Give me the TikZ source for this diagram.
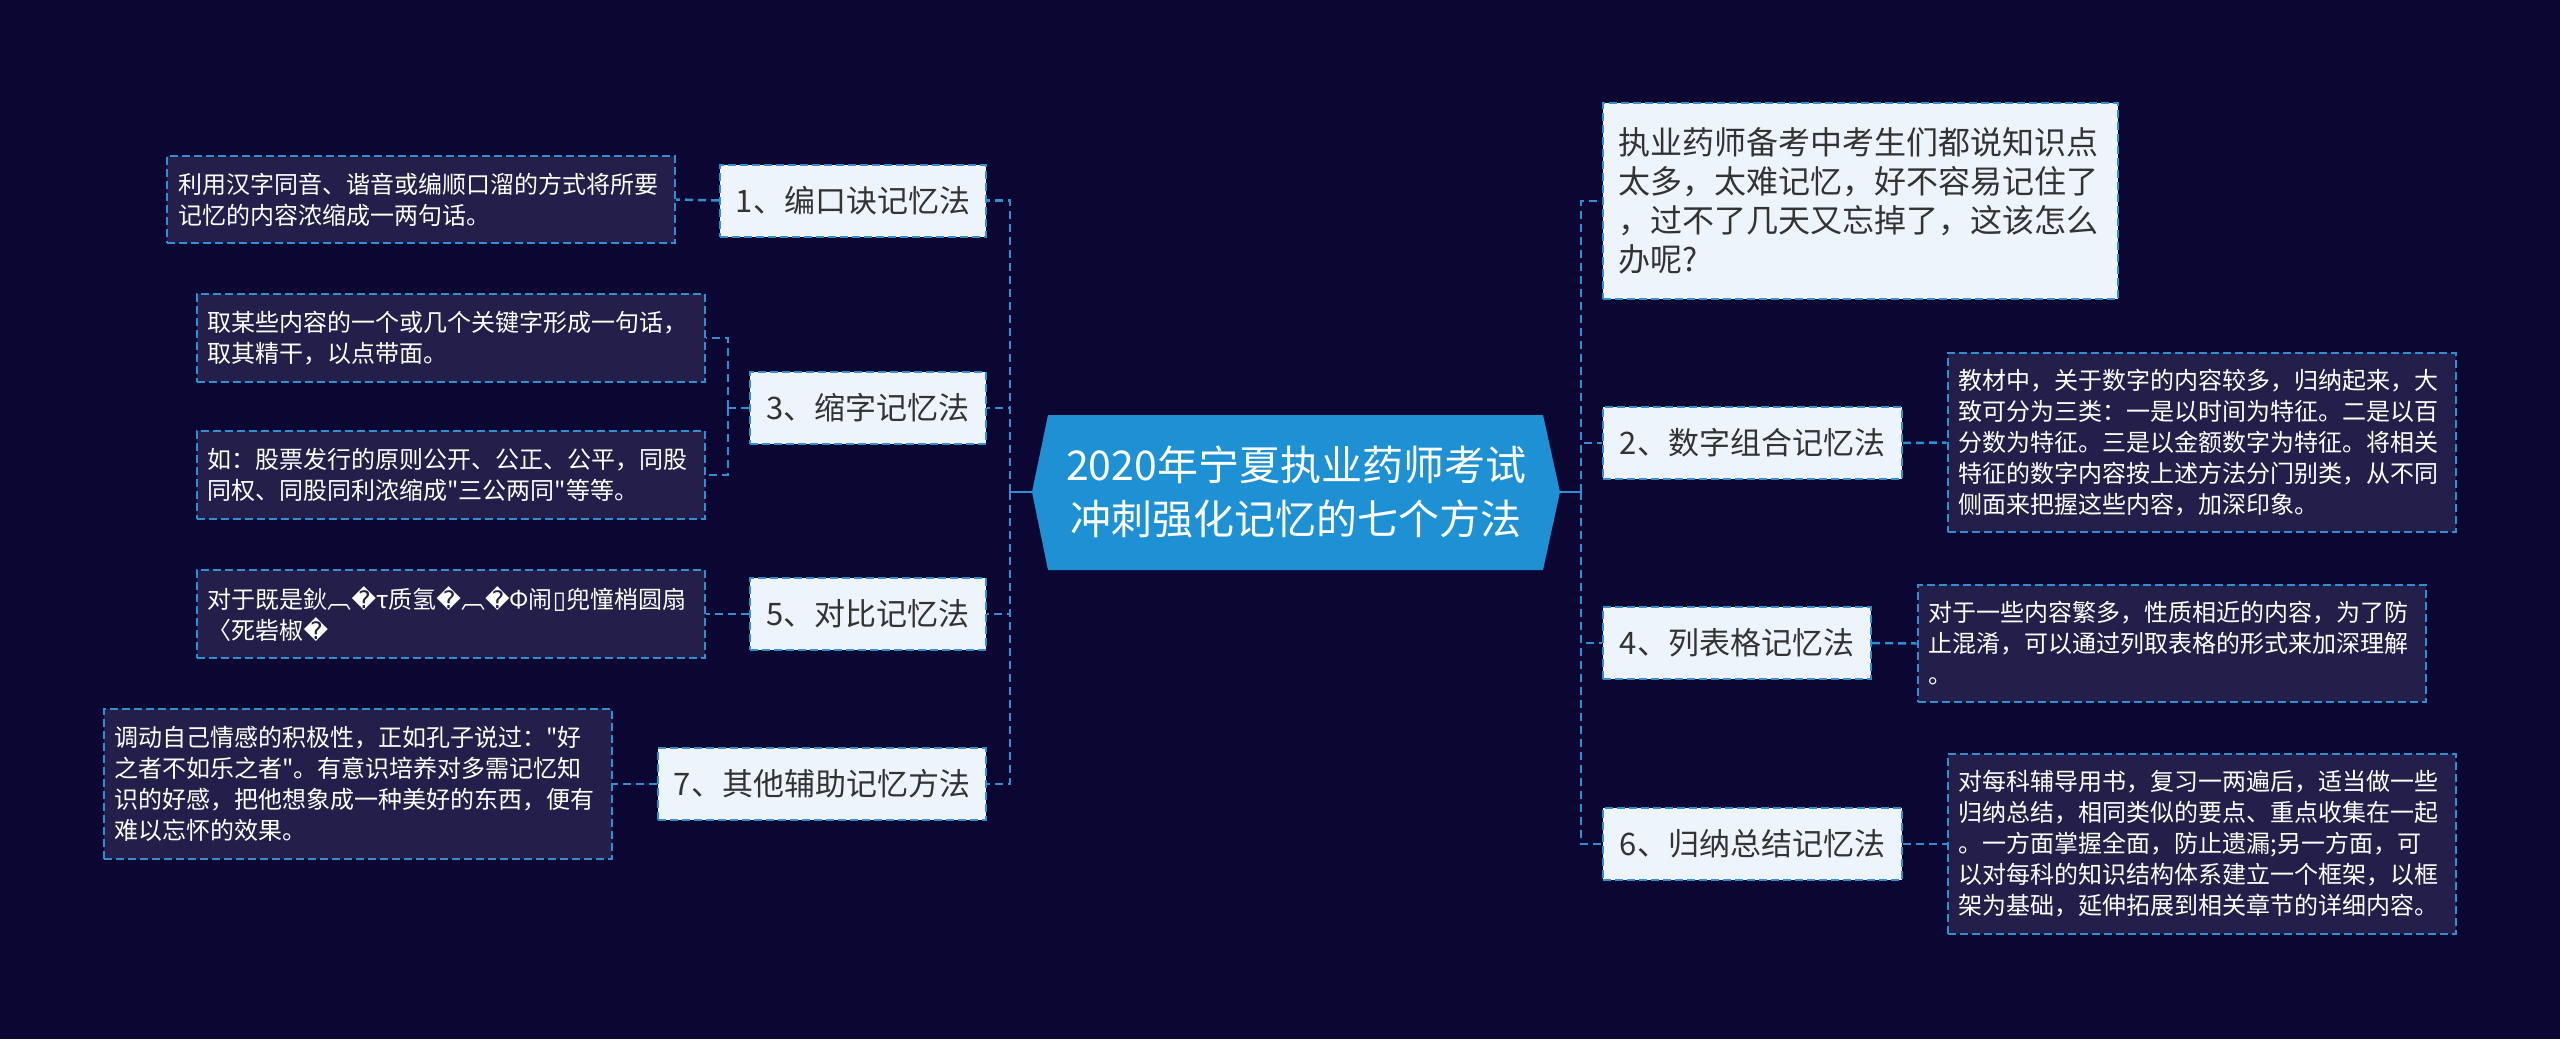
\documentclass[tikz,border=0pt]{standalone}
\usepackage{fontspec}
\setmainfont{Noto Sans CJK SC}
\newfontfamily\cjk{Noto Sans CJK SC}
\newfontfamily\djv{DejaVu Sans}
\newcommand{\repchar}{{\djv ^^^^fffd}}
\definecolor{bgc}{HTML}{0B0732}
\definecolor{leaffill}{HTML}{231F4A}
\definecolor{lightfill}{HTML}{EEF4FC}
\definecolor{lineblue}{HTML}{2E8FD2}
\definecolor{hexfill}{HTML}{1E90D4}
\definecolor{darktext}{HTML}{333333}
\begin{document}
\begin{tikzpicture}[x=1pt,y=-1pt,
  conn/.style={draw=lineblue, line width=2.5pt, dash pattern=on 8pt off 5pt},
  solidconn/.style={draw=lineblue, line width=2.5pt},
  topic/.style={draw=lineblue, line width=2pt, dash pattern=on 8pt off 4pt,
    fill=lightfill, text=darktext, font=\cjk\fontsize{31pt}{38pt}\selectfont,
    inner sep=0pt, minimum height=72pt},
  leaf/.style={draw=lineblue, line width=2pt, dash pattern=on 8pt off 4pt,
    fill=leaffill, text=white, font=\cjk\fontsize{24pt}{31pt}\selectfont,
    align=left, inner xsep=11pt, inner ysep=0pt, text width=486pt},
  intro/.style={draw=lineblue, line width=2pt, dash pattern=on 8pt off 4pt,
    fill=lightfill, text=darktext, font=\cjk\fontsize{32pt}{39pt}\selectfont,
    align=left, inner xsep=15pt, inner ysep=0pt, text width=485pt},
  title/.style={text=white, font=\cjk\fontsize{41pt}{54pt}\selectfont, align=center, inner sep=0pt}
]
\fill[bgc] (0,0) rectangle (2560,1039);
\useasboundingbox (0,0) rectangle (2560,1039);

% central hexagon
\coordinate (hexL) at (1032,492);
\coordinate (hexR) at (1560,492);
\fill[hexfill] (hexL) -- (1048,415) -- (1543,415) -- (hexR) -- (1543,570) -- (1048,570) -- cycle;
\node[title] (main) at (1296,492) {2020年宁夏执业药师考试\\冲刺强化记忆的七个方法};

\coordinate (lhub) at (1010,492);
\coordinate (rhub) at (1581,492);

% left topics
\node[topic, minimum width=266pt] (n1) at (853,200.5) {1、编口诀记忆法};
\node[topic, minimum width=236pt] (n3) at (868,408) {3、缩字记忆法};
\node[topic, minimum width=236pt] (n5) at (868,614) {5、对比记忆法};
\node[topic, minimum width=328pt] (n7) at (822,784) {7、其他辅助记忆方法};

% right topics
\node[intro, minimum width=515pt, minimum height=196pt] (intro) at (1860.5,201) {执业药师备考中考生们都说知识点\\太多，太难记忆，好不容易记住了\\，过不了几天又忘掉了，这该怎么\\办呢?};
\node[topic, minimum width=299pt] (n2) at (1752.5,443) {2、数字组合记忆法};
\node[topic, minimum width=268pt] (n4) at (1737,643) {4、列表格记忆法};
\node[topic, minimum width=299pt] (n6) at (1752.5,844) {6、归纳总结记忆法};

% left leaves
\node[leaf, minimum height=87pt] (l1) at (421,199.5) {利用汉字同音、谐音或编顺口溜的方式将所要\\记忆的内容浓缩成一两句话。};
\node[leaf, minimum height=88pt] (l3a) at (450.5,338) {取某些内容的一个或几个关键字形成一句话，\\取其精干，以点带面。};
\node[leaf, minimum height=88pt] (l3b) at (450.5,475) {如：股票发行的原则公开、公正、公平，同股\\同权、同股同利浓缩成"三公两同"等等。};
\node[leaf, minimum height=88pt] (l5) at (450.5,614) {对于既是鈥︹\repchar{}τ质氢\repchar{}︹\repchar{}Φ闹{\djv ▯}兜憧梢圆扇\\〈死砦椒\repchar{}};
\node[leaf, minimum height=150pt] (l7) at (357.5,784) {调动自己情感的积极性，正如孔子说过："好\\之者不如乐之者"。有意识培养对多需记忆知\\识的好感，把他想象成一种美好的东西，便有\\难以忘怀的效果。};

% right leaves
\node[leaf, minimum height=179pt] (l2) at (2201.5,442.5) {教材中，关于数字的内容较多，归纳起来，大\\致可分为三类：一是以时间为特征。二是以百\\分数为特征。三是以金额数字为特征。将相关\\特征的数字内容按上述方法分门别类，从不同\\侧面来把握这些内容，加深印象。};
\node[leaf, minimum height=117pt] (l4) at (2171.5,643.5) {对于一些内容繁多，性质相近的内容，为了防\\止混淆，可以通过列取表格的形式来加深理解\\。};
\node[leaf, minimum height=180pt] (l6) at (2201.5,844) {对每科辅导用书，复习一两遍后，适当做一些\\归纳总结，相同类似的要点、重点收集在一起\\。一方面掌握全面，防止遗漏;另一方面，可\\以对每科的知识结构体系建立一个框架，以框\\架为基础，延伸拓展到相关章节的详细内容。};

% connectors from centre
\draw[solidconn] (hexL) -- (lhub);
\draw[solidconn] (hexR) -- (rhub);
\draw[conn] (lhub) |- (n1.east);
\draw[conn] (lhub) |- (n3.east);
\draw[conn] (lhub) |- (n5.east);
\draw[conn] (lhub) |- (n7.east);
\draw[conn] (rhub) |- (intro.west);
\draw[conn] (rhub) |- (n2.west);
\draw[conn] (rhub) |- (n4.west);
\draw[conn] (rhub) |- (n6.west);

% topic to leaves
\coordinate (n3hub) at (728,408);
\draw[conn] (n1.west) -- (l1.east);
\draw[conn] (n3.west) -- (n3hub);
\draw[conn] (n3hub) |- (l3a.east);
\draw[conn] (n3hub) |- (l3b.east);
\draw[conn] (n5.west) -- (l5.east);
\draw[conn] (n7.west) -- (l7.east);
\draw[conn] (n2.east) -- (l2.west);
\draw[conn] (n4.east) -- (l4.west);
\draw[conn] (n6.east) -- (l6.west);
\end{tikzpicture}
\end{document}
